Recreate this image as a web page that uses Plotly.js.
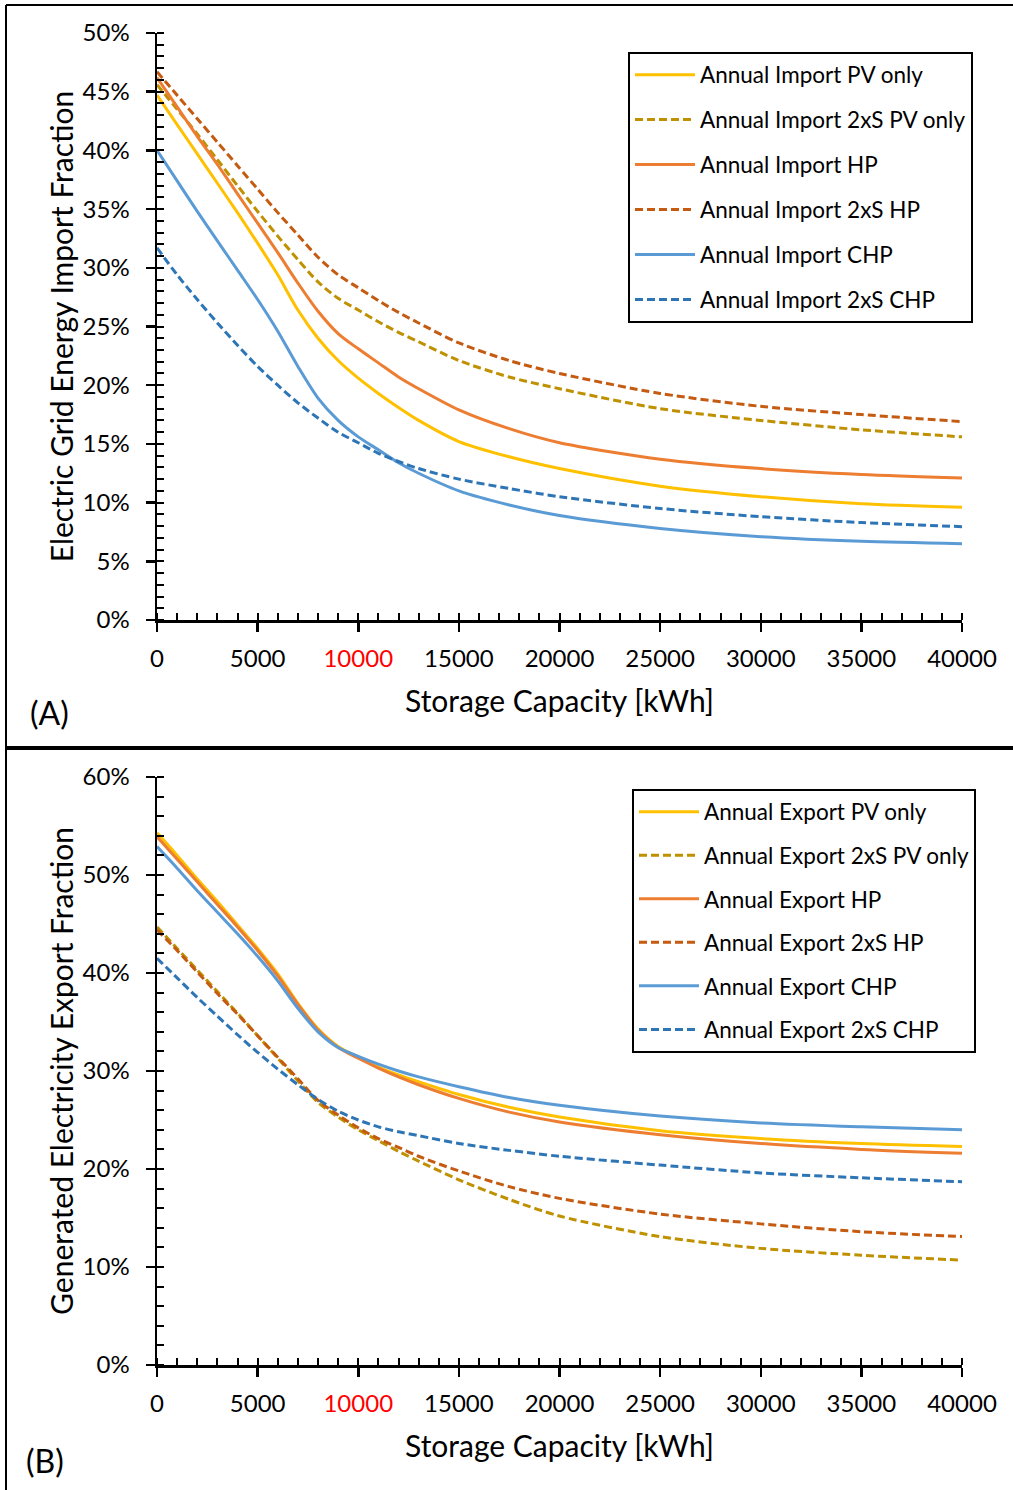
<!DOCTYPE html>
<html>
<head>
<meta charset="utf-8">
<script src="https://cdn.plot.ly/plotly-3.0.1.min.js"></script>
<style>
  html, body { margin: 0; padding: 0; background: #ffffff; }
  #chart { width: 1013px; height: 1490px; }
</style>
</head>
<body>
<div id="chart"></div>
<script>
// Storage capacity sample points [kWh]
const storageKWh = [0, 1000, 2000, 3000, 4000, 5000, 6000, 7000, 8000, 9000, 10000,
                    11000, 12000, 13000, 15000, 17500, 20000, 25000, 30000, 35000, 40000];

// (A) Electric grid energy import fraction [%]
const importPV      = [44.7, 42.2, 39.7, 37.2, 34.7, 32.1, 29.4, 26.4, 24.0, 22.1, 20.6, 19.3, 18.1, 17.0, 15.2, 13.9, 12.9, 11.4, 10.5, 9.9, 9.6];
const importPV2xS   = [45.6, 43.5, 41.4, 39.2, 37.0, 34.8, 32.7, 30.7, 28.8, 27.4, 26.4, 25.4, 24.5, 23.7, 22.1, 20.7, 19.7, 18.0, 17.0, 16.2, 15.6];
const importHP      = [46.2, 43.7, 41.2, 38.8, 36.3, 33.8, 31.3, 28.7, 26.3, 24.4, 23.1, 21.9, 20.7, 19.7, 17.9, 16.3, 15.1, 13.7, 12.9, 12.4, 12.1];
const importHP2xS   = [46.7, 44.7, 42.7, 40.7, 38.7, 36.7, 34.7, 32.8, 30.9, 29.4, 28.3, 27.2, 26.2, 25.3, 23.6, 22.1, 21.0, 19.3, 18.2, 17.5, 16.9];
const importCHP     = [40.0, 37.4, 34.8, 32.3, 29.8, 27.3, 24.6, 21.6, 18.9, 17.0, 15.6, 14.5, 13.4, 12.5, 11.0, 9.8, 8.9, 7.8, 7.1, 6.7, 6.5];
const importCHP2xS  = [31.7, 29.4, 27.3, 25.3, 23.4, 21.6, 20.0, 18.5, 17.2, 16.0, 15.1, 14.2, 13.5, 12.9, 12.0, 11.2, 10.5, 9.5, 8.8, 8.3, 7.95];

// (B) Generated electricity export fraction [%]
const exportPV      = [54.3, 52.0, 49.6, 47.3, 44.9, 42.5, 39.9, 36.9, 34.3, 32.5, 31.4, 30.4, 29.6, 28.9, 27.6, 26.3, 25.3, 23.9, 23.1, 22.6, 22.3];
const exportPV2xS   = [44.7, 42.5, 40.3, 38.1, 35.9, 33.6, 31.3, 29.0, 26.8, 25.3, 24.0, 22.9, 21.8, 20.8, 18.9, 16.9, 15.2, 13.1, 11.9, 11.2, 10.7];
const exportHP      = [53.9, 51.6, 49.3, 47.0, 44.7, 42.3, 39.7, 36.8, 34.2, 32.4, 31.3, 30.3, 29.4, 28.6, 27.2, 25.8, 24.8, 23.5, 22.6, 22.0, 21.6];
const exportHP2xS   = [44.4, 42.3, 40.1, 37.9, 35.8, 33.6, 31.4, 29.2, 27.0, 25.5, 24.2, 23.1, 22.2, 21.3, 19.8, 18.2, 17.0, 15.4, 14.4, 13.6, 13.1];
const exportCHP     = [52.9, 50.7, 48.4, 46.2, 44.0, 41.7, 39.2, 36.4, 34.0, 32.4, 31.5, 30.7, 30.0, 29.4, 28.4, 27.3, 26.5, 25.4, 24.7, 24.3, 24.0];
const exportCHP2xS  = [41.5, 39.5, 37.5, 35.6, 33.7, 31.9, 30.2, 28.6, 27.1, 25.9, 25.0, 24.3, 23.8, 23.4, 22.6, 21.9, 21.3, 20.4, 19.6, 19.1, 18.7];

// Series names
const importNames = ['Annual Import PV only', 'Annual Import 2xS PV only', 'Annual Import HP',
                     'Annual Import 2xS HP', 'Annual Import CHP', 'Annual Import 2xS CHP'];
const exportNames = ['Annual Export PV only', 'Annual Export 2xS PV only', 'Annual Export HP',
                     'Annual Export 2xS HP', 'Annual Export CHP', 'Annual Export 2xS CHP'];

// Tick labels
const xTickVals = [0, 5000, 10000, 15000, 20000, 25000, 30000, 35000, 40000];
const xTickText = ['0', '5000', '<span style="color:#ff0000">10000</span>', '15000', '20000',
                   '25000', '30000', '35000', '40000'];
const yTickValsA = [0, 5, 10, 15, 20, 25, 30, 35, 40, 45, 50];
const yTickTextA = ['0%', '5%', '10%', '15%', '20%', '25%', '30%', '35%', '40%', '45%', '50%'];
const yTickValsB = [0, 10, 20, 30, 40, 50, 60];
const yTickTextB = ['0%', '10%', '20%', '30%', '40%', '50%', '60%'];

// Styling
const FONT = 'Lato, "Open Sans", "DejaVu Sans", sans-serif';
const styles = [
  { color: '#FFC000', dash: 'solid' },
  { color: '#BF9000', dash: '8px,4px' },
  { color: '#ED7D31', dash: 'solid' },
  { color: '#C55A11', dash: '8px,4px' },
  { color: '#5B9BD5', dash: 'solid' },
  { color: '#2E75B6', dash: '8px,4px' }
];

const W = 1013, H = 1490;
const fx = p => p / W;
const fy = p => 1 - p / H;

function series(xa, ya, legendId, names, values) {
  return values.map((v, i) => ({
    type: 'scatter', mode: 'lines',
    x: storageKWh, y: v, name: names[i],
    xaxis: xa, yaxis: ya, legend: legendId, legendgroup: legendId + i,
    line: { color: styles[i].color, dash: styles[i].dash, width: 3, shape: 'spline', smoothing: 0.8 },
    hoverinfo: 'x+y+name'
  }));
}

const traces = [
  ...series('x', 'y', 'legend', importNames,
            [importPV, importPV2xS, importHP, importHP2xS, importCHP, importCHP2xS]),
  ...series('x2', 'y2', 'legend2', exportNames,
            [exportPV, exportPV2xS, exportHP, exportHP2xS, exportCHP, exportCHP2xS])
];

const axisLine = { showline: true, linecolor: '#000', linewidth: 2.5, showgrid: false, zeroline: false,
                   tickcolor: '#000', tickwidth: 2.5 };
const tickFont = { family: FONT, size: 24, color: '#000' };
const titleFont = { family: FONT, size: 30, color: '#000' };

function xAxis(domainAnchor, title) {
  return Object.assign({}, axisLine, {
    anchor: domainAnchor, domain: [fx(157), fx(962)], range: [0, 40000],
    tickmode: 'array', tickvals: xTickVals, ticktext: xTickText,
    ticks: 'outside', ticklen: 9, tickfont: tickFont, ticklabelstandoff: 7,
    minor: { tickmode: 'linear', tick0: 0, dtick: 1000, ticks: 'inside', ticklen: 7, tickwidth: 2, tickcolor: '#000' },
    title: { text: title, font: titleFont, standoff: 20 }
  });
}
function yAxis(domainAnchor, dom, range, vals, text, minorStep, title) {
  return Object.assign({}, axisLine, {
    anchor: domainAnchor, domain: dom, range: range,
    tickmode: 'array', tickvals: vals, ticktext: text,
    ticks: 'outside', ticklen: 9, tickfont: tickFont, ticklabelstandoff: 11,
    minor: { tickmode: 'linear', tick0: 0, dtick: minorStep, ticks: 'inside', ticklen: 7, tickwidth: 2, tickcolor: '#000' },
    title: { text: title, font: titleFont, standoff: 0 }
  });
}
// Overlay axes carrying the inner half of each major tick
function innerTicks(base, anchor, range, vals) {
  return {
    overlaying: base, anchor: anchor, range: range, tickmode: 'array', tickvals: vals,
    ticks: 'inside', ticklen: 9, tickwidth: 2.5, tickcolor: '#000',
    showticklabels: false, showline: false, showgrid: false, zeroline: false
  };
}

const domA = [fy(620), fy(33)];
const domB = [fy(1365), fy(777)];

const legendBase = {
  bgcolor: '#ffffff', bordercolor: '#000', borderwidth: 2,
  font: { family: FONT, size: 22.5, color: '#000' },
  xanchor: 'left', yanchor: 'top', itemwidth: 60,
  itemclick: false, itemdoubleclick: false
};

const layout = {
  width: W, height: H, margin: { l: 0, r: 0, t: 0, b: 0 },
  paper_bgcolor: '#ffffff', plot_bgcolor: 'rgba(0,0,0,0)',
  font: { family: FONT, color: '#000' },
  showlegend: true,
  xaxis: xAxis('y', 'Storage Capacity [kWh]'),
  yaxis: yAxis('x', domA, [0, 50], yTickValsA, yTickTextA, 1, 'Electric Grid Energy Import Fraction'),
  xaxis2: xAxis('y2', 'Storage Capacity [kWh]'),
  yaxis2: yAxis('x2', domB, [0, 60], yTickValsB, yTickTextB, 2, 'Generated Electricity Export Fraction'),
  xaxis3: innerTicks('x', 'y', [0, 40000], xTickVals),
  yaxis3: innerTicks('y', 'x', [0, 50], yTickValsA),
  xaxis4: innerTicks('x2', 'y2', [0, 40000], xTickVals),
  yaxis4: innerTicks('y2', 'x2', [0, 60], yTickValsB),
  legend: Object.assign({}, legendBase, { x: fx(628), y: fy(51.5), tracegroupgap: 12.7 }),
  legend2: Object.assign({}, legendBase, { x: fx(632), y: fy(788.5), tracegroupgap: 11.3 }),
  annotations: [
    { text: '(A)', xref: 'paper', yref: 'paper', x: fx(49), y: fy(713),
      xanchor: 'center', yanchor: 'middle', showarrow: false,
      font: { family: FONT, size: 32, color: '#000' } },
    { text: '(B)', xref: 'paper', yref: 'paper', x: fx(45), y: fy(1460),
      xanchor: 'center', yanchor: 'middle', showarrow: false,
      font: { family: FONT, size: 32, color: '#000' } }
  ],
  shapes: [
    { type: 'line', xref: 'paper', yref: 'paper', x0: fx(6), x1: fx(6), y0: fy(5), y1: fy(1490),
      line: { color: '#000', width: 2 } },
    { type: 'line', xref: 'paper', yref: 'paper', x0: fx(6), x1: fx(1013), y0: fy(5), y1: fy(5),
      line: { color: '#000', width: 2 } },
    { type: 'line', xref: 'paper', yref: 'paper', x0: fx(6), x1: fx(1013), y0: fy(748), y1: fy(748),
      line: { color: '#000', width: 4 } }
  ]
};

Plotly.newPlot('chart', traces, layout, { staticPlot: true, displayModeBar: false });
</script>
</body>
</html>
